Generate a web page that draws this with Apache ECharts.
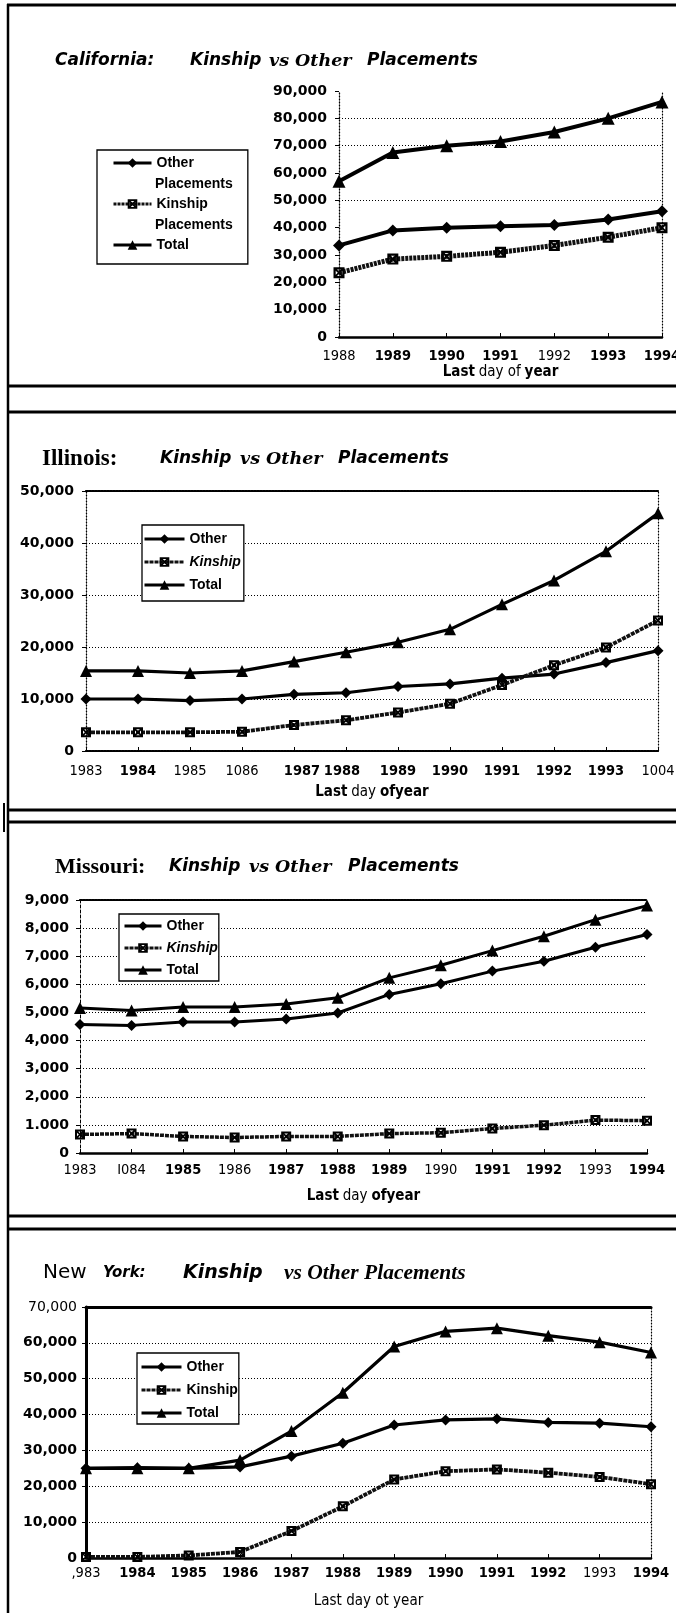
<!DOCTYPE html>
<html>
<head>
<meta charset="utf-8">
<title>Kinship vs Other Placements</title>
<script src="https://cdn.jsdelivr.net/npm/echarts@6.0.0/dist/echarts.min.js"></script>
<style>
  html, body { margin: 0; padding: 0; background: #fff; }
  #chart { width: 676px; height: 1613px; }
</style>
</head>
<body>
<div id="chart"></div>
<script>
// ---------- California, last day of year 1988-1994 ----------
const caYears   = ['1988', '1989', '1990', '1991', '1992', '1993', '1994'];
const caOther   = [33500, 39000, 40000, 40500, 41000, 43000, 46000];
const caKinship = [23500, 28500, 29500, 31000, 33500, 36500, 40000];
const caTotal   = [57000, 67500, 70000, 71500, 75000, 80000, 86000];
const caYTicks  = ['0', '10,000', '20,000', '30,000', '40,000', '50,000', '60,000', '70,000', '80,000', '90,000'];
const caGuides  = [50000, 70000, 80000];

// ---------- Illinois, 1983-1994 ----------
const ilYears   = ['1983', '1984', '1985', '1086', '1987', '1988', '1989', '1990', '1991', '1992', '1993', '1004'];
const ilOther   = [10000, 10000, 9700, 10000, 10900, 11200, 12400, 12900, 14000, 14800, 17000, 19300];
const ilKinship = [3600, 3600, 3600, 3700, 5000, 5900, 7400, 9100, 12700, 16500, 19900, 25100];
const ilTotal   = [15400, 15400, 15000, 15400, 17200, 19000, 20900, 23400, 28200, 32800, 38400, 45700];
const ilYTicks  = ['0', '10,000', '20,000', '30,000', '40,000', '50,000'];

// ---------- Missouri, 1983-1994 ----------
const moYears   = ['1983', 'I084', '1985', '1986', '1987', '1988', '1989', '1990', '1991', '1992', '1993', '1994'];
const moOther   = [4570, 4540, 4660, 4660, 4770, 4980, 5640, 6020, 6470, 6820, 7320, 7770];
const moKinship = [660, 690, 590, 550, 590, 590, 690, 720, 870, 990, 1170, 1150];
const moTotal   = [5160, 5070, 5190, 5190, 5300, 5520, 6230, 6680, 7200, 7710, 8300, 8800];
const moYTicks  = ['0', '1.000', '2,000', '3,000', '4,000', '5,000', '6,000', '7,000', '8,000', '9,000'];

// ---------- New York, 1983-1994 ----------
const nyYears   = [',983', '1984', '1985', '1986', '1987', '1988', '1989', '1990', '1991', '1992', '1993', '1994'];
const nyOther   = [25000, 25200, 25000, 25400, 28400, 32000, 37100, 38500, 38800, 37800, 37600, 36600];
const nyKinship = [300, 300, 700, 1700, 7500, 14400, 21900, 24200, 24700, 23800, 22600, 20600];
const nyTotal   = [25000, 25000, 25000, 27300, 35400, 46100, 59000, 63200, 64100, 62000, 60200, 57300];
const nyYTicks  = ['0', '10,000', '20,000', '30,000', '40,000', '50,000', '60,000', '70,000'];

// ---------- typography & strokes ----------
const INK = '#000';
const SANS = '"DejaVu Sans", "Liberation Sans", sans-serif';
const COND = '"Liberation Sans Narrow", "DejaVu Sans Condensed", "DejaVu Sans", sans-serif';
const ARIAL = '"Liberation Sans", Arial, sans-serif';
const SERIF = '"Liberation Serif", "Times New Roman", serif';
const WIDE_SERIF = '"DejaVu Serif", "Liberation Serif", serif';
const DOTS = [1, 2];
const DENSE = [2, 1];
// square with a cross, used for the kinship markers
const KIN_SYMBOL = 'path://M0,0L10,0L10,10L0,10Z M2,2L2,8L8,8L8,2Z M2,2L3.2,2L8,6.8L8,8L6.8,8L2,3.2Z M8,2L8,3.2L3.2,8L2,8L2,6.8L6.8,2Z';

// per-panel frame styling (which tick labels are set heavy, axis strokes, gaps)
const panels = [
  {
    tag: 'CA', years: caYears, other: caOther, kin: caKinship, total: caTotal, ticks: caYTicks,
    max: 90000, step: 10000,
    grid: { left: 339, top: 91, width: 323, height: 246 },
    heavy: ['1989', '1990', '1991', '1993', '1994'],
    nudge: {},
    yFont: 14, yMargin: 12, xMargin: 12, nameGap: 28,
    axisName: '{b|Last} {r|day of} {b|year}',
    leftLine: { width: 1.3, type: DOTS }, bottomLine: { width: 2.5, type: 'solid' },
    rightLine: { width: 1.2, type: DOTS }, topLine: null,
    split: false, lightTop: false,
    lineW: 4, kinW: 5, kinDash: [3, 1], sym: 12
  },
  {
    tag: 'IL', years: ilYears, other: ilOther, kin: ilKinship, total: ilTotal, ticks: ilYTicks,
    max: 50000, step: 10000,
    grid: { left: 86, top: 491, width: 572, height: 260 },
    heavy: ['1984', '1987', '1988', '1989', '1990', '1991', '1992', '1993'],
    nudge: { '1987': 'bR', '1988': 'bL' },
    yFont: 14, yMargin: 12, xMargin: 13, nameGap: 34,
    axisName: '{b|Last} {r|day} {b|ofyear}',
    leftLine: { width: 1.3, type: DOTS }, bottomLine: { width: 2.2, type: DENSE },
    rightLine: { width: 1.2, type: DOTS }, topLine: { width: 2.2, type: DENSE },
    split: true, lightTop: false,
    lineW: 3.2, kinW: 3.8, kinDash: [4, 1], sym: 11
  },
  {
    tag: 'MO', years: moYears, other: moOther, kin: moKinship, total: moTotal, ticks: moYTicks,
    max: 9000, step: 1000,
    grid: { left: 80, top: 900, width: 567, height: 253 },
    heavy: ['1985', '1987', '1988', '1989', '1991', '1992', '1994'],
    nudge: {},
    yFont: 14, yMargin: 11, xMargin: 10, nameGap: 36,
    axisName: '{b|Last} {r|day} {b|ofyear}',
    leftLine: { width: 1, type: [3, 2] }, bottomLine: { width: 2.5, type: 'solid' },
    rightLine: null, topLine: { width: 2.2, type: DENSE },
    split: true, lightTop: false,
    lineW: 3, kinW: 3.5, kinDash: [4, 1], sym: 11
  },
  {
    tag: 'NY', years: nyYears, other: nyOther, kin: nyKinship, total: nyTotal, ticks: nyYTicks,
    max: 70000, step: 10000,
    grid: { left: 86, top: 1307, width: 565, height: 251 },
    heavy: ['1984', '1985', '1986', '1987', '1988', '1989', '1990', '1991', '1992', '1994'],
    nudge: {},
    yFont: 14, yMargin: 9, xMargin: 8, nameGap: 36,
    axisName: '{r|Last day ot year}',
    leftLine: { width: 3, type: 'solid' }, bottomLine: { width: 2.5, type: 'solid' },
    rightLine: { width: 1.2, type: DOTS }, topLine: { width: 3, type: 'solid' },
    split: true, lightTop: true,
    lineW: 3.2, kinW: 3.8, kinDash: [4, 1], sym: 11
  }
];

const tickRich = {
  r:  { fontFamily: COND, fontSize: 14.5, fontWeight: 'normal', color: INK },
  b:  { fontFamily: COND, fontSize: 14.5, fontWeight: 'bold', color: INK },
  bR: { fontFamily: COND, fontSize: 14.5, fontWeight: 'bold', color: INK, padding: [0, 0, 0, 16] },
  bL: { fontFamily: COND, fontSize: 14.5, fontWeight: 'bold', color: INK, padding: [0, 8, 0, 0] }
};
const nameRich = {
  r: { fontFamily: COND, fontSize: 15, fontWeight: 'normal', color: INK },
  b: { fontFamily: COND, fontSize: 15, fontWeight: 'bold', color: INK }
};

const grids = [], xAxes = [], yAxes = [], series = [];

panels.forEach((p, i) => {
  grids.push(Object.assign({ containLabel: false, outerBoundsMode: 'none', show: false }, p.grid));
  const heavy = new Set(p.heavy);

  xAxes.push({
    gridIndex: i, type: 'category', data: p.years, boundaryGap: false, position: 'bottom',
    axisLine: { show: true, onZero: false, lineStyle: { color: INK, width: p.bottomLine.width, type: p.bottomLine.type } },
    axisTick: { show: true, inside: true, length: 4, lineStyle: { color: INK, width: 1 } },
    axisLabel: {
      interval: 0, margin: p.xMargin, color: INK, hideOverlap: false,
      formatter: v => '{' + (p.nudge[v] || (heavy.has(v) ? 'b' : 'r')) + '|' + v + '}',
      rich: tickRich
    },
    splitLine: { show: false },
    name: p.axisName, nameLocation: 'middle', nameGap: p.nameGap, nameMoveOverlap: false,
    nameTextStyle: { rich: nameRich }
  });
  xAxes.push({
    gridIndex: i, type: 'category', data: p.years, boundaryGap: false, position: 'top',
    axisLine: p.topLine
      ? { show: true, onZero: false, lineStyle: { color: INK, width: p.topLine.width, type: p.topLine.type } }
      : { show: false },
    axisTick: { show: false }, axisLabel: { show: false }, splitLine: { show: false }
  });

  yAxes.push({
    gridIndex: i, type: 'value', min: 0, max: p.max, interval: p.step, position: 'left',
    axisLine: { show: true, onZero: false, lineStyle: { color: INK, width: p.leftLine.width, type: p.leftLine.type } },
    axisTick: { show: true, length: 4, lineStyle: { color: INK, width: 1 } },
    axisLabel: {
      margin: p.yMargin, color: INK,
      formatter: v => {
        const label = p.ticks[Math.round(v / p.step)];
        return '{' + (p.lightTop && v === p.max ? 'r' : 'b') + '|' + label + '}';
      },
      rich: {
        b: { fontFamily: SANS, fontSize: p.yFont, fontWeight: 'bold', color: INK },
        r: { fontFamily: SANS, fontSize: p.yFont, fontWeight: 'normal', color: INK }
      }
    },
    splitLine: { show: p.split, showMinLine: false, showMaxLine: false, lineStyle: { color: INK, width: 1, type: DOTS } }
  });
  yAxes.push({
    gridIndex: i, type: 'value', min: 0, max: p.max, interval: p.step, position: 'right',
    axisLine: p.rightLine
      ? { show: true, onZero: false, lineStyle: { color: INK, width: p.rightLine.width, type: p.rightLine.type } }
      : { show: false },
    axisTick: { show: false }, axisLabel: { show: false }, splitLine: { show: false }
  });

  const common = {
    type: 'line', xAxisIndex: 2 * i, yAxisIndex: 2 * i, z: 3,
    showSymbol: true, animation: false, emphasis: { disabled: true },
    itemStyle: { color: INK }
  };
  series.push(Object.assign({}, common, {
    name: p.tag + ':Other', data: p.other, symbol: 'diamond', symbolSize: p.sym,
    lineStyle: { color: INK, width: p.lineW, type: 'solid' }
  }));
  series.push(Object.assign({}, common, {
    name: p.tag + ':Kinship', data: p.kin, symbol: KIN_SYMBOL, symbolSize: p.sym - 1,
    lineStyle: { color: '#111', width: p.kinW, type: p.kinDash }
  }));
  const totalSeries = Object.assign({}, common, {
    name: p.tag + ':Total', data: p.total, symbol: 'triangle', symbolSize: p.sym + 1,
    lineStyle: { color: INK, width: p.lineW, type: 'solid' }
  });
  if (p.tag === 'CA') {
    totalSeries.markLine = {
      silent: true, symbol: 'none', z: 1, animation: false,
      label: { show: false },
      lineStyle: { color: INK, width: 1, type: DOTS },
      data: caGuides.map(v => ({ yAxis: v }))
    };
  }
  series.push(totalSeries);
});

// ---------- legends ----------
const legendText = { fontFamily: ARIAL, fontWeight: 'bold', fontSize: 14, lineHeight: 16, color: INK };
function legendBox(tag, pos, italicKin) {
  return Object.assign({
    orient: 'vertical', selectedMode: false, z: 6,
    borderColor: INK, borderWidth: 1.3, backgroundColor: '#fff',
    lineStyle: { width: 3 },
    textStyle: legendText,
    formatter: n => n.slice(3),
    data: [
      { name: tag + ':Other' },
      { name: tag + ':Kinship', textStyle: italicKin ? { fontStyle: 'italic' } : {} },
      { name: tag + ':Total' }
    ]
  }, pos);
}
const legends = [
  legendBox('CA', { left: 97, top: 150, itemWidth: 38, itemHeight: 12, itemGap: 25, padding: [5, 40, 11, 15] }, false),
  legendBox('IL', { left: 142, top: 525, itemWidth: 40, itemHeight: 12, itemGap: 7, padding: [6, 3, 8, 1] }, true),
  legendBox('MO', { left: 119, top: 914, itemWidth: 37, itemHeight: 12, itemGap: 6, padding: [4, 1, 3, 4] }, true),
  legendBox('NY', { left: 137, top: 1353, itemWidth: 40, itemHeight: 12, itemGap: 7, padding: [6, 1, 3, 3] }, false)
];

// ---------- titles, page rules and legend continuation lines ----------
function txt(x, y, text, font) {
  return {
    type: 'text', x, y, silent: true, z: 10,
    style: { text, font, fill: INK, align: 'left', verticalAlign: 'middle', textAlign: 'left', textVerticalAlign: 'middle' }
  };
}
function rule(x1, y1, x2, y2, w) {
  return { type: 'line', silent: true, z: 10, shape: { x1, y1, x2, y2 }, style: { stroke: INK, lineWidth: w } };
}
const SANS_BI = 'italic bold 17px ' + SANS;
const VS_BI = 'italic bold 17.5px ' + WIDE_SERIF;

const graphics = [
  // page frame and panel dividers
  rule(7, 5, 676, 5, 3),
  rule(8, 4, 8, 1613, 2.5),
  rule(8, 386, 676, 386, 3),
  rule(8, 412, 676, 412, 3),
  rule(8, 810, 676, 810, 3),
  rule(8, 822, 676, 822, 3),
  rule(4, 803, 4, 832, 2),
  rule(8, 1216, 676, 1216, 3),
  rule(8, 1229, 676, 1229, 3),

  // California
  txt(55, 61, 'California:', SANS_BI),
  txt(190, 61, 'Kinship', SANS_BI),
  txt(269, 61, 'vs Other', VS_BI),
  txt(367, 61, 'Placements', SANS_BI),
  txt(155, 184, 'Placements', 'bold 14px ' + ARIAL),
  txt(155, 225, 'Placements', 'bold 14px ' + ARIAL),

  // Illinois
  txt(42, 459, 'Illinois:', 'bold 23px ' + SERIF),
  txt(160, 459, 'Kinship', SANS_BI),
  txt(240, 459, 'vs Other', VS_BI),
  txt(338, 459, 'Placements', SANS_BI),

  // Missouri
  txt(55, 867, 'Missouri:', 'bold 22px ' + SERIF),
  txt(169, 867, 'Kinship', SANS_BI),
  txt(249, 867, 'vs Other', VS_BI),
  txt(348, 867, 'Placements', SANS_BI),

  // New York
  txt(43, 1273, 'New', '20px ' + SANS),
  txt(103, 1273, 'York:', 'italic bold 15px ' + SANS),
  txt(183, 1273, 'Kinship', 'italic bold 19px ' + SANS),
  txt(284, 1273, 'vs Other Placements', 'italic bold 21.5px ' + SERIF)
];

const chart = echarts.init(document.getElementById('chart'), null, { renderer: 'canvas', width: 676, height: 1613 });
chart.setOption({
  animation: false,
  backgroundColor: '#fff',
  textStyle: { fontFamily: SANS, color: INK },
  grid: grids,
  xAxis: xAxes,
  yAxis: yAxes,
  legend: legends,
  series: series,
  graphic: { elements: graphics }
});
</script>
</body>
</html>
